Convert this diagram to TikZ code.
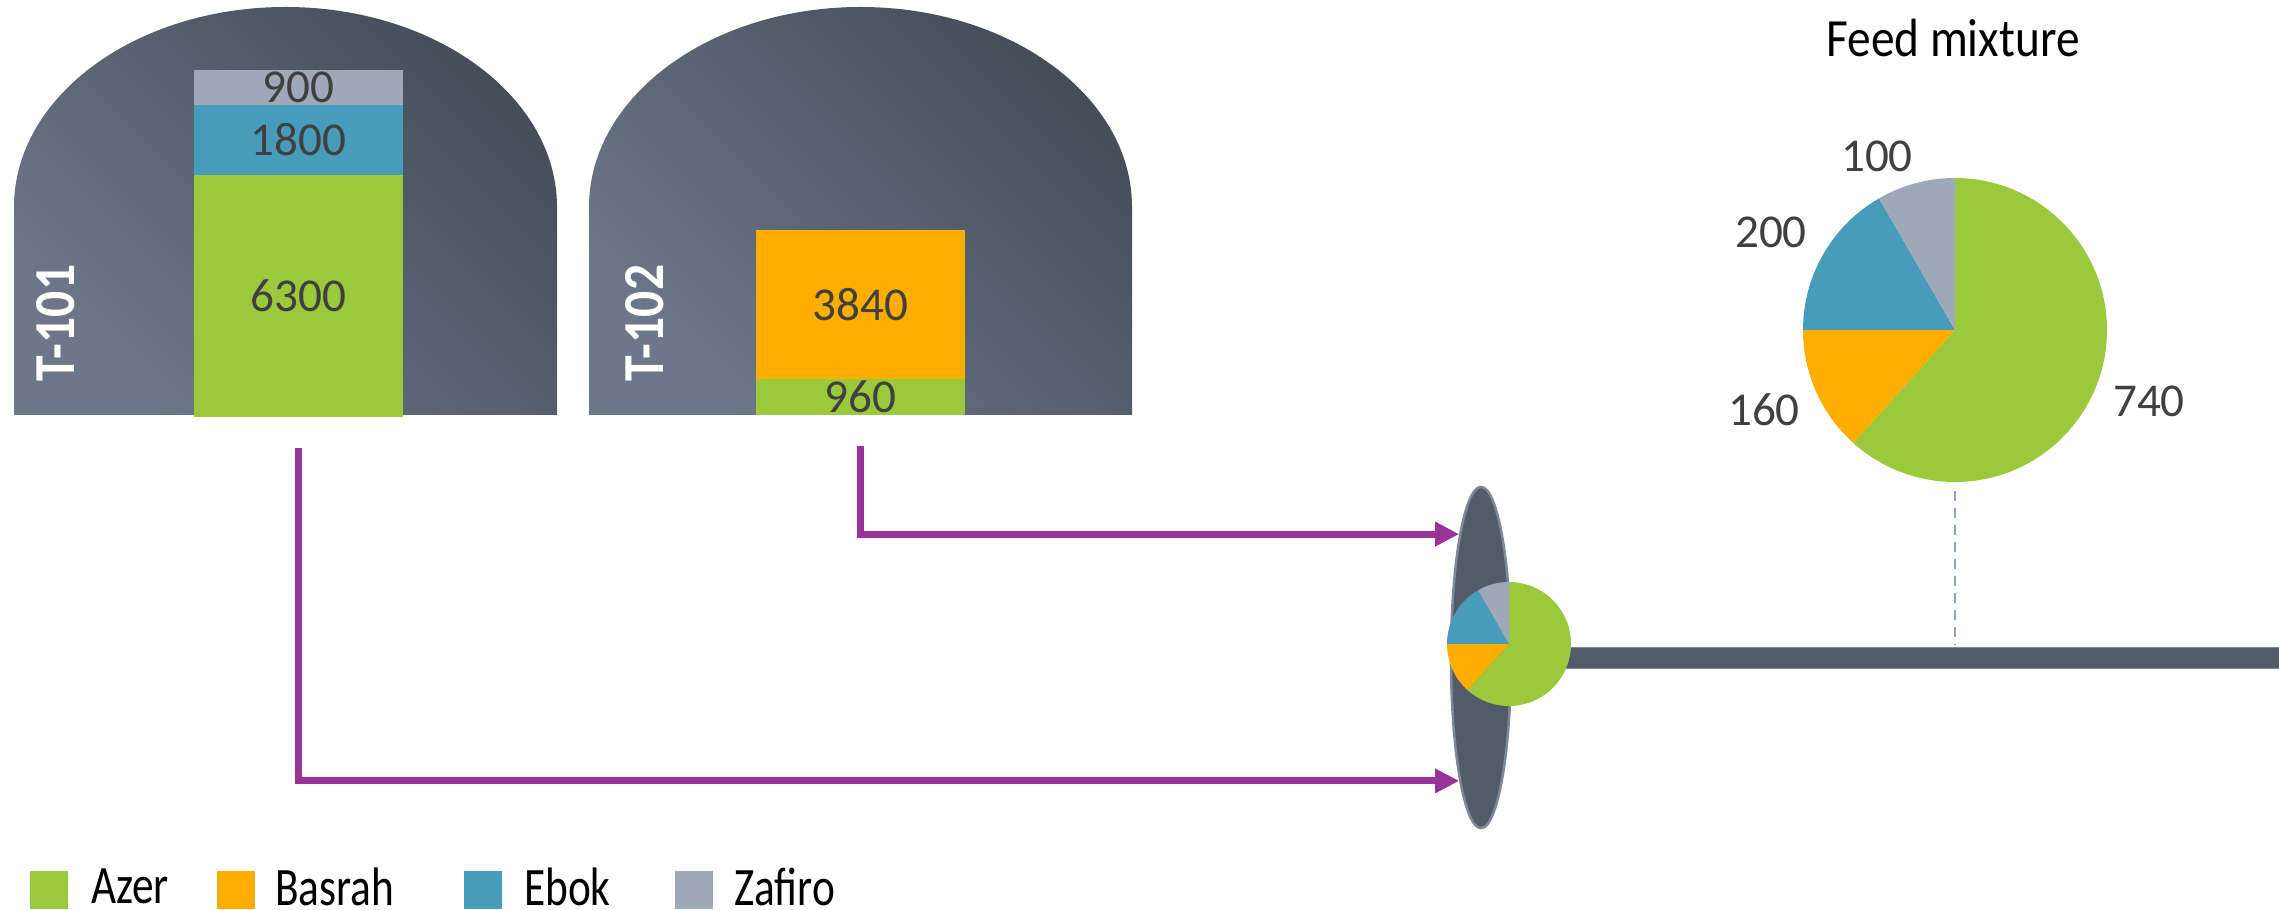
\documentclass[tikz,border=0pt]{standalone}
\usepackage{fontspec}
\setmainfont{Carlito}
\newfontfamily\titlefont{Carlito}[FakeStretch=0.88]
\newfontfamily\legendfont{Carlito}[FakeStretch=0.8]
\newfontfamily\tankfont{Carlito}[FakeStretch=0.89]
\usepackage{tikz}
\usetikzlibrary{positioning,shapes.geometric,arrows.meta}
\pgfdeclarelayer{pipelayer}
\pgfsetlayers{pipelayer,main}
\definecolor{azer}{HTML}{9ACA3C}
\definecolor{basrah}{HTML}{FFAE00}
\definecolor{ebok}{HTML}{479BBB}
\definecolor{zafiro}{HTML}{9DA8B9}
\definecolor{tanklight}{HTML}{6C7889}
\definecolor{tankdark}{HTML}{454D59}
\definecolor{pipecol}{HTML}{525C69}
\definecolor{pipeedge}{HTML}{7D8898}
\definecolor{flowcol}{HTML}{993399}
\definecolor{numcol}{HTML}{404040}
\definecolor{guide}{HTML}{8FA3BF}
\tikzstyle{tank}     = [top color=tankdark,
                        bottom color=tanklight,
                        shading angle=-45]
\tikzstyle{tanklabel}= [rotate=90,
                        text=white,
                        font=\tankfont\bfseries\fontsize{16.5}{19}\selectfont]
\tikzstyle{seg}      = [rectangle,
                        inner sep=0pt,
                        outer sep=0pt,
                        minimum width=2.09cm,
                        text=numcol,
                        font=\fontsize{13.4}{16}\selectfont]
\tikzstyle{mixer}    = [ellipse,
                        minimum width=0.6cm,
                        minimum height=3.41cm,
                        inner sep=0pt,
                        fill=pipecol,
                        draw=pipeedge,
                        line width=0.025cm]
\tikzstyle{pipe}     = [draw=pipeedge,
                        double=pipecol,
                        double distance=0.19cm,
                        line width=0.012cm]
\tikzstyle{flow}     = [draw=flowcol,
                        line width=0.07cm,
                        -{Triangle[length=0.24cm,width=0.23cm]}]
\tikzstyle{guideline}= [draw=guide,
                        line width=0.024cm,
                        dash pattern=on 0.1cm off 0.07cm]
\tikzstyle{pielabel} = [text=numcol,
                        font=\fontsize{13.4}{16}\selectfont]
\tikzstyle{title}    = [font=\titlefont\fontsize{15.3}{18}\selectfont]
\tikzstyle{legbox}   = [rectangle,
                        minimum size=0.38cm,
                        inner sep=0pt]
\tikzstyle{legtext}  = [inner sep=0pt,
                        yshift=0.03cm,
                        font=\legendfont\fontsize{15.4}{18}\selectfont]
\begin{document}
\begin{tikzpicture}[x=0.01cm, y=-0.01cm]
  \useasboundingbox (0,0) rectangle (2279,910);

  % Tanks
  \shade[tank] (14,415) -- (14,207) arc (180:360:271.5 and 200) -- (557,415) -- cycle;
  \shade[tank] (589,415) -- (589,207) arc (180:360:271.5 and 200) -- (1132,415) -- cycle;
  \node[tanklabel] (t1label) at (56,323) {T-101};
  \node[tanklabel] (t2label) at (645,323) {T-102};

  % Tank contents
  \node[seg, fill=zafiro, minimum height=0.35cm, anchor=north] (t1zafiro) at (298.5,70) {900};
  \node[seg, fill=ebok, minimum height=0.70cm, below=0pt of t1zafiro] (t1ebok) {1800};
  \node[seg, fill=azer, minimum height=2.42cm, below=0pt of t1ebok] (t1azer) {6300};
  \node[seg, fill=basrah, minimum height=1.49cm, anchor=north] (t2basrah) at (860.5,230) {3840};
  \node[seg, fill=azer, minimum height=0.36cm, below=0pt of t2basrah] (t2azer) {960};

  % Mixer
  \node[mixer] (mix) at (1481,657.5) {};
  \coordinate (mixpie) at (1509,644);
  \foreach \a/\b/\col in {-90/132/azer, 132/180/basrah, 180/240/ebok, 240/270/zafiro}
    \fill[\col] (mixpie) -- ++(\a:62) arc (\a:\b:62) -- cycle;

  % Pipe
  \coordinate (pipeout) at (2300,658);
  \begin{pgfonlayer}{pipelayer}
    \draw[pipe] (mix.center |- pipeout) -- (pipeout);
  \end{pgfonlayer}

  % Feed mixture
  \node[circle, minimum size=3.04cm, inner sep=0pt] (feedpie) at (1955,330) {};
  \foreach \a/\b/\col in {-90/132/azer, 132/180/basrah, 180/240/ebok, 240/270/zafiro}
    \fill[\col] (feedpie.center) -- ++(\a:152) arc (\a:\b:152) -- cycle;
  \node[title, anchor=base] (feedtitle) at (1953,57) {Feed mixture};
  \node[pielabel, anchor=base] (lblazer) at (2149,417) {740};
  \node[pielabel, anchor=base] (lblbasrah) at (1764,426) {160};
  \node[pielabel, anchor=base] (lblebok) at (1771,248) {200};
  \node[pielabel, anchor=base] (lblzafiro) at (1877,172) {100};
  \coordinate (pipetop) at (1955,645);
  \draw[guideline] ([yshift=-0.08cm]feedpie.south) -- (pipetop);

  % Flows
  \draw[flow] ([yshift=-0.31cm]t1azer.south) |- (mix.260);
  \draw[flow] ([yshift=-0.31cm]t2azer.south) |- (mix.100.3);

  % Legend
  \node[legbox, fill=azer, anchor=north west] (legazer) at (29,870) {};
  \node[legtext, right=0.22cm of legazer] (txtazer) {Azer};
  \node[legbox, fill=basrah, anchor=north west] (legbasrah) at (216,870) {};
  \node[legtext, right=0.19cm of legbasrah] (txtbasrah) {Basrah};
  \node[legbox, fill=ebok, anchor=north west] (legebok) at (463,870) {};
  \node[legtext, right=0.21cm of legebok] (txtebok) {Ebok};
  \node[legbox, fill=zafiro, anchor=north west] (legzafiro) at (674,870) {};
  \node[legtext, right=0.20cm of legzafiro] (txtzafiro) {Zafiro};

\end{tikzpicture}
\end{document}
